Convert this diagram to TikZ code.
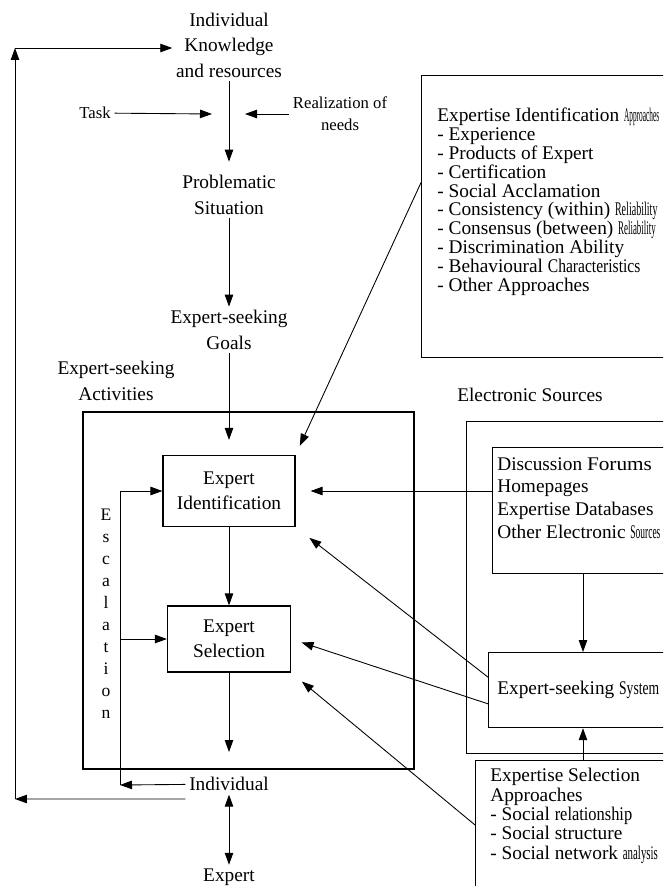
\documentclass[tikz,border=0pt]{standalone}
\usepackage{fontspec}
\setmainfont{Liberation Serif}
\usepackage{graphicx}
\usepackage{tikz}
\usetikzlibrary{arrows.meta, positioning, calc}
\newcommand{\squeeze}[2]{\resizebox{#1}{\height}{#2}}

\begin{document}
\begin{tikzpicture}[
					x=0.02cm, y=-0.02cm,
					font=\fontsize{11}{14.5}\selectfont,
					frame/.style={draw, line width=0.7pt, inner sep=0pt},
					stage/.style={align=center, inner sep=2pt},
					small/.style={align=center, inner sep=2pt, font=\fontsize{9.5}{12.5}\selectfont},
					listing/.style={align=left, anchor=north west, inner sep=0pt},
					arrow/.style={-{Triangle[length=2.4mm, width=1.7mm]}, line width=0.5pt},
					twoway/.style={{Triangle[length=2.4mm, width=1.7mm]}-{Triangle[length=2.4mm, width=1.7mm]}, line width=0.5pt}
					]
					\useasboundingbox (0,0) rectangle (663,886);
					\clip (0,0) rectangle (663,886);
					
					% Define nodes
					\node[stage] (know) at (229,45) {Individual\\Knowledge\\and resources};
					\node[small] (task) at (95,113) {Task};
					\node[small] (real) at (340,114) {Realization of\\needs};
					\node[stage] (prob) at (229,195) {Problematic\\Situation};
					\node[stage] (goals) at (229,330) {Expert-seeking\\Goals};
					\node[stage] (actlabel) at (116,381) {Expert-seeking\\Activities};
					\node[frame, line width=1pt, minimum width=6.62cm, minimum height=7.14cm, anchor=north west] (actbox) at (82,411) {};
					\node[frame, minimum width=2.64cm, minimum height=1.42cm, align=center] (ident) at (229,491) {Expert\\Identification};
					\node[frame, minimum width=2.46cm, minimum height=1.32cm, align=center] (select) at (229,639) {Expert\\Selection};
					\node[align=center, font=\fontsize{10}{12.5}\selectfont] (escal) at (106,614) {E\\s\\c\\a\\l\\a\\t\\i\\o\\n};
					\node[stage] (indiv) at (229,784) {Individual};
					\node[stage] (expert) at (229,877) {Expert};
					
					% Right-hand boxes
					\node[frame, minimum width=5.58cm, minimum height=5.64cm, anchor=north west] (appbox) at (421,75) {};
					\node[listing, font=\fontsize{11}{10.7}\selectfont] (applist) at (437,108) {Expertise Identification \squeeze{0.7cm}{Approaches}\\- Experience\\- Products of Expert\\- Certification\\- Social Acclamation\\- Consistency (within) \squeeze{0.85cm}{Reliability}\\- Consensus (between) \squeeze{0.75cm}{Reliability}\\- Discrimination Ability\\- Behavioural \squeeze{1.85cm}{Characteristics}\\- Other Approaches};
					\node[stage] (elabel) at (530,395) {Electronic Sources};
					\node[frame, minimum width=4.68cm, minimum height=6.64cm, anchor=north west] (esbox) at (466,421) {};
					\node[frame, minimum width=4.16cm, minimum height=2.52cm, anchor=north west] (srcbox) at (492,447) {};
					\node[listing, font=\fontsize{11}{13}\selectfont] (srclist) at (497,457) {Discussion \squeeze{1.3cm}{Forums}\\Homepages\\Expertise Databases\\Other Electronic \squeeze{0.6cm}{Sources}};
					\node[frame, minimum width=4.24cm, minimum height=1.5cm, anchor=north west] (sysbox) at (488,652) {};
					\node[anchor=west, inner sep=0pt] (systxt) at (497,690) {Expert-seeking \squeeze{0.8cm}{System}};
					\node[frame, minimum width=4.5cm, minimum height=2.8cm, anchor=north west] (selbox) at (475,760) {};
					\node[listing, font=\fontsize{11}{11}\selectfont] (sellist) at (490,768) {Expertise Selection\\Approaches\\- Social \squeeze{1.55cm}{relationship}\\- Social structure\\- Social network \squeeze{0.7cm}{analysis}};
					
					% Helper points
					\coordinate (tj) at (212,114);
					\coordinate (rj) at (245,114);
					\coordinate (selout) at (229,752);
					\coordinate (escbot) at (120,785);
					\coordinate (fbbot) at (15,799);
					\coordinate (fbtop) at (15,48);
					\coordinate (col) at (583,0);
					
					% Arrows
					\draw[arrow, shorten >=0.2cm] (know) -- (prob);
					\draw[arrow] (task) -- (tj);
					\draw[arrow] (real) -- (rj);
					\draw[arrow] (prob) -- (goals);
					\draw[arrow, shorten >=0.3cm] (goals) -- (ident);
					\draw[arrow] (ident) -- (select);
					\draw[arrow] (select) -- (selout);
					
					% Escalation loop
					\draw[arrow] (indiv) -- (escbot);
					\draw[arrow] (escbot) |- (ident.west);
					\draw[arrow] (escbot |- select.west) -- (select.west);
					
					% Feedback to knowledge
					\draw[arrow] ([yshift=-0.3cm]indiv.west) -- (fbbot);
					\draw[arrow] (fbbot) -- (fbtop);
					\draw[arrow] (fbtop) -- (fbtop -| know.west);
					\draw[twoway] (indiv) -- (expert);
					
					% Links from the right
					\draw[arrow, shorten >=0.2cm] ($(appbox.north west)!0.38!(appbox.south west)$) -- (ident.north east);
					\draw[arrow, shorten >=0.3cm] (srcbox.west |- ident.east) -- (ident.east);
					\draw[arrow] (srcbox.south -| col) -- (sysbox.north -| col);
					\draw[arrow] (selbox.north -| col) -- (sysbox.south -| col);
					\draw[arrow, shorten >=0.35cm] ($(sysbox.north west)!0.33!(sysbox.south west)$) -- (ident.south east);
					\draw[arrow, shorten >=0.22cm] ($(sysbox.north west)!0.68!(sysbox.south west)$) -- (select.east);
					\draw[arrow, shorten >=0.28cm] ($(selbox.north west)!0.46!(selbox.south west)$) -- (select.south east);
				\end{tikzpicture}
\end{document}
